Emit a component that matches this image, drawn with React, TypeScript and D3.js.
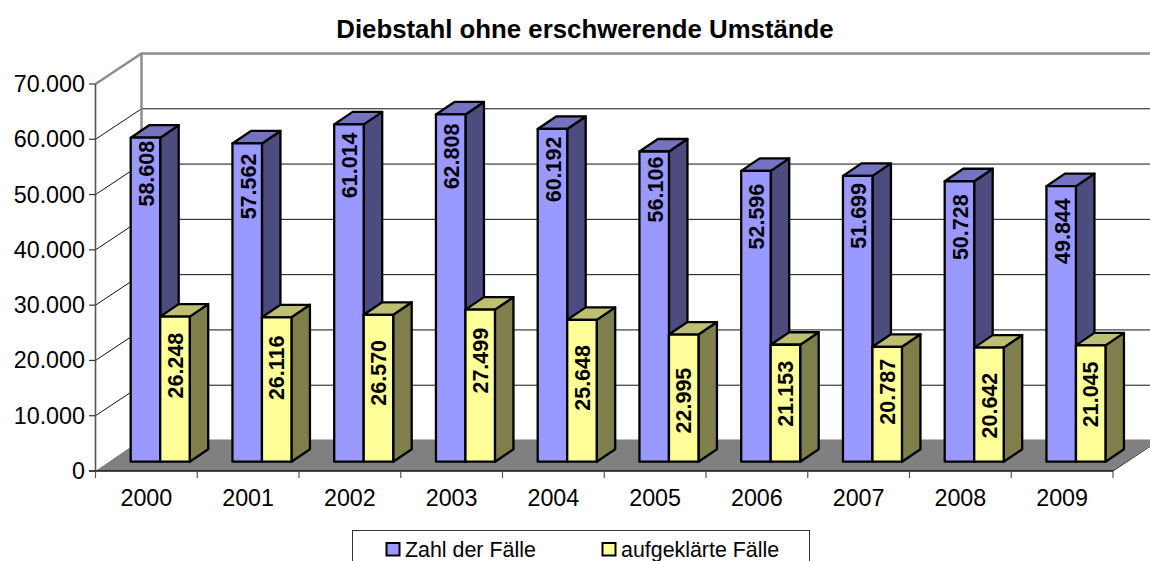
import React from "react";
import * as d3 from "d3";

const years = ["2000","2001","2002","2003","2004","2005","2006","2007","2008","2009"];
const faelle = [58608,57562,61014,62808,60192,56106,52596,51699,50728,49844];
const aufgeklaert = [26248,26116,26570,27499,25648,22995,21153,20787,20642,21045];
const yTicks = [0,10000,20000,30000,40000,50000,60000,70000];
const faelleLabelShift = [36,43,41,42,40.5,38,45.7,40,46,45];
const aufgeklaertLabelShift = [49,50.5,58,51,58,66,49,45,58,49];

const W = 1150, H = 561;
const fmt = (v: number) => (v === 0 ? "0" : d3.format(",")(v).replace(/,/g, "."));
const FONT = "'Liberation Sans', Arial, sans-serif";

const y = d3.scaleLinear().domain([0,70000]).range([471,84]);
const x = d3.scaleBand().domain(years).range([95.5,1113]);
const wall = { dx: 46, dy: -30.5 };
const bar = { dx: 18.5, dy: -12.5, w: 29.5, lift: 9.3, inset: 35.2 };

function Bar3D({ x0, value, front, top, side }: any) {
  const b = y(0) - bar.lift;
  const t = b - (y(0) - y(value));
  const x1 = x0 + bar.w;
  const pts = (a: number[][]) => a.map(p => p.join(",")).join(" ");
  return (
    <g stroke="#000" strokeWidth={2.3} strokeLinejoin="round">
      <polygon points={pts([[x1,t],[x1+bar.dx,t+bar.dy],[x1+bar.dx,b+bar.dy],[x1,b]])} fill={side} />
      <polygon points={pts([[x0,t],[x0+bar.dx,t+bar.dy],[x1+bar.dx,t+bar.dy],[x1,t]])} fill={top} />
      <rect x={x0} y={t} width={bar.w} height={b-t} fill={front} />
    </g>
  );
}

function Label({ cx, cy, text }: any) {
  return (
    <text transform={`translate(${cx},${cy}) rotate(-90)`} textAnchor="middle" dominantBaseline="central"
      fontFamily={FONT} fontWeight="bold" fontSize={21.5} fill="#000">{text}</text>
  );
}

export default function App() {
  const barTop = (v: number) => y(0) - bar.lift - (y(0) - y(v));
  return (
    <svg width={W} height={H} viewBox={`0 0 ${W} ${H}`} style={{ position: "fixed", left: 0, top: 0, background: "#fff" }}>
      <text x={585} y={38} textAnchor="middle" fontFamily={FONT} fontWeight="bold" fontSize={25.8}>Diebstahl ohne erschwerende Umstände</text>

      <polygon points={`${x.range()[0]},471 ${x.range()[1]},471 ${x.range()[1]+wall.dx},${471+wall.dy-1} ${x.range()[0]+wall.dx},${471+wall.dy-1}`} fill="#808080" />

      {yTicks.slice(1,-1).map(t => (
        <polyline key={t} points={`95.5,${y(t)} ${95.5+wall.dx},${y(t)+wall.dy} ${W},${y(t)+wall.dy}`} fill="none" stroke="#111" strokeWidth={1} />
      ))}
      <polyline points={`95.5,${y(70000)} ${95.5+wall.dx},${y(70000)+wall.dy} ${W},${y(70000)+wall.dy}`} fill="none" stroke="#8c8c8c" strokeWidth={2.4} />
      <line x1={95.5+wall.dx} x2={95.5+wall.dx} y1={y(70000)+wall.dy} y2={471+wall.dy} stroke="#8c8c8c" strokeWidth={2.4} />

      <line x1={95.5} x2={95.5} y1={y(70000)} y2={471} stroke="#555" strokeWidth={1.6} />
      <line x1={89} x2={1113} y1={471} y2={471} stroke="#111" strokeWidth={1.6} />
      <line x1={1113} x2={1150} y1={471} y2={446.5} stroke="#333" strokeWidth={1} />
      {yTicks.map(t => (
        <g key={t}>
          <line x1={89} x2={95.5} y1={y(t)} y2={y(t)} stroke="#333" strokeWidth={1.2} />
          <text x={85} y={y(t)} textAnchor="end" dominantBaseline="central" fontFamily={FONT} fontSize={23.3}>{fmt(t)}</text>
        </g>
      ))}
      {[...years, "end"].map((yr, i) => {
        const px = 95.5 + i * x.step();
        return <line key={yr} x1={px} x2={px} y1={471} y2={478} stroke="#555" strokeWidth={1.2} />;
      })}
      {years.map(yr => (
        <text key={yr} x={x(yr)! + x.bandwidth()/2} y={505.5} textAnchor="middle" fontFamily={FONT} fontSize={23.3}>{yr}</text>
      ))}

      {years.map((yr, i) => {
        const x0 = x(yr)! + bar.inset;
        return (
          <g key={yr}>
            <Bar3D x0={x0} value={faelle[i]} front="#9999ff" top="#7373bf" side="#4c4c7f" />
            <Label cx={x0 + bar.w/2 + 1.5} cy={barTop(faelle[i]) + faelleLabelShift[i]} text={fmt(faelle[i])} />
            <Bar3D x0={x0 + bar.w} value={aufgeklaert[i]} front="#ffff99" top="#bfbf73" side="#7f7f4c" />
            <Label cx={x0 + bar.w*1.5 + 0.7} cy={barTop(aufgeklaert[i]) + aufgeklaertLabelShift[i]} text={fmt(aufgeklaert[i])} />
          </g>
        );
      })}

      <rect x={352.5} y={530.5} width={457} height={40} fill="#fff" stroke="#333" strokeWidth={1} />
      <rect x={386.5} y={543} width={13} height={12.5} fill="#9999ff" stroke="#000" strokeWidth={2} />
      <text x={405} y={557} fontFamily={FONT} fontSize={21.4}>Zahl der Fälle</text>
      <rect x={602.5} y={543} width={13} height={12.5} fill="#ffff99" stroke="#000" strokeWidth={2} />
      <text x={621} y={557} fontFamily={FONT} fontSize={21.4}>aufgeklärte Fälle</text>
    </svg>
  );
}
